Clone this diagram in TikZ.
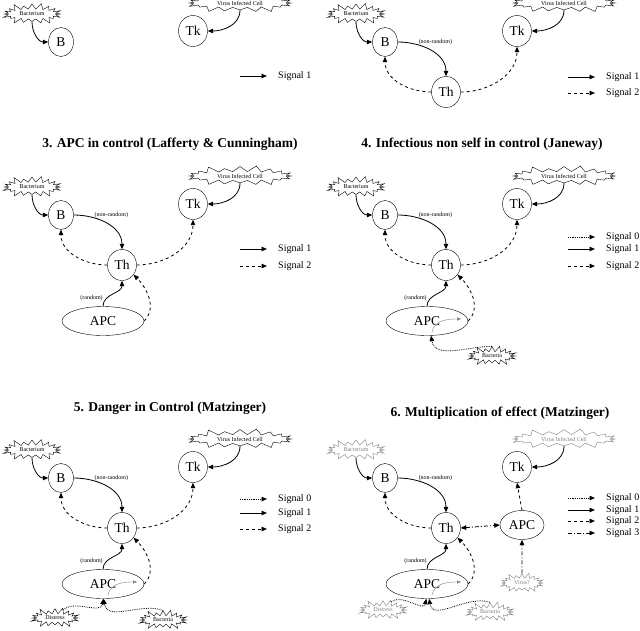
\documentclass[tikz,border=0pt]{standalone}
\usepackage{fontspec}
\setmainfont{Liberation Serif}
\usetikzlibrary{shapes.geometric,shapes.symbols,arrows.meta,calc}
\tikzset{
 cell/.style={draw,ellipse,inner sep=0pt,font=\fontsize{13.5}{14}\selectfont,minimum width=29pt,minimum height=31pt},
 burst/.style={draw,starburst,starburst points=20,starburst point height=7pt,inner sep=1pt,font=\fontsize{6}{7}\selectfont,minimum height=24pt},
 tip/.style={-{Triangle[length=5.5pt,width=4.5pt]}},
 s0/.style={tip,densely dotted,thick},
 s1/.style={tip,thick},
 s2/.style={tip,dashed,thick},
 s3/.style={tip,thick,dash pattern=on 4pt off 2pt on 1pt off 2pt},
 lab/.style={font=\fontsize{6}{7}\selectfont,inner sep=1pt},
 leg/.style={font=\fontsize{10}{11}\selectfont,anchor=west,inner sep=0pt},
 ttl/.style={font=\bfseries\fontsize{13.5}{14}\selectfont},
 pale/.style={draw=gray,text=gray}
}
\newcommand\basepanel[2]{%
 \node[burst,minimum width=62pt,#2] (#1bac) at (32,-187) {Bacterium};
 \node[cell,minimum width=25pt,minimum height=29pt] (#1B) at (61,-215) {B};
 \node[burst,minimum width=108pt,minimum height=22pt,#2] (#1vic) at (240,-176) {Virus Infected Cell};
 \node[cell] (#1Tk) at (193,-204) {Tk};
 \draw[s1] (#1bac.south) to[out=-90,in=180] (#1B.west);
 \draw[s1] (#1vic.south) to[out=-90,in=0] (#1Tk.east);}
\newcommand\thpart[1]{%
 \node[cell] (#1Th) at (122,-265) {Th};
 \draw[s1] (#1B.east) to[out=0,in=90] node[lab,pos=0.3,above right=-1pt] {(non-random)} (#1Th.north);
 \draw[s2] (#1Th.west) to[out=180,in=-90] (#1B.south);}
\newcommand\thtk[1]{\draw[s2] (#1Th.east) to[out=0,in=-90] (#1Tk.south);}
\newcommand\apcpart[1]{%
 \node[cell,minimum width=82pt,minimum height=29pt] (#1APC) at (103,-321) {APC};
 \draw[s1] (#1APC.north) to[out=90,in=-90] node[lab,pos=0.3,left=3pt] {(random)} (#1Th.south);
 \draw[s2] (#1APC.east) to[out=45,in=-45] (#1Th.-40);}
\newcommand\apcin[1]{%
 \coordinate (#1ia) at ($(#1APC.center)+(5,-11)$);
 \coordinate (#1ib) at ($(#1APC.center)+(34,2)$);
 \draw[-{Triangle[length=4pt,width=3pt]},gray,thin] (#1ia) to[out=80,in=180] (#1ib);}
\newcommand\legrow[4]{%
 \coordinate (#1lg#4a) at (0,#2); \coordinate (#1lg#4b) at (27,#2);
 \draw[#3] (#1lg#4a) -- (#1lg#4b);
 \node[leg] (#1lg#4t) at (38,#2) {Signal #4};}
\begin{document}
\begin{tikzpicture}[x=1pt,y=1pt]
\useasboundingbox (0,0) rectangle (640,-630);
% Panel 1
\begin{scope}[shift={(0,173)}]
 \basepanel{a}{}
 \begin{scope}[shift={(240,0)}]\legrow{a}{-249}{s1}{1}\end{scope}
\end{scope}
% Panel 2
\begin{scope}[shift={(324,173)}]
 \basepanel{b}{}
 \thpart{b}\thtk{b}
 \begin{scope}[shift={(244,0)}]\legrow{b}{-250}{s1}{1}\legrow{b}{-266}{s2}{2}\end{scope}
\end{scope}
% Panel 3
\begin{scope}
 \node[ttl] (t3) at (170,-144) {3. APC in control (Lafferty \& Cunningham)};
 \basepanel{c}{}
 \thpart{c}\thtk{c}\apcpart{c}
 \begin{scope}[shift={(240,0)}]\legrow{c}{-249}{s1}{1}\legrow{c}{-266}{s2}{2}\end{scope}
\end{scope}
% Panel 4
\begin{scope}[shift={(324,0)}]
 \node[ttl] (t4) at (158,-144) {4. Infectious non self in control (Janeway)};
 \basepanel{d}{}
 \thpart{d}\thtk{d}\apcpart{d}\apcin{d}
 \node[burst,minimum width=52pt,minimum height=22pt] (dbact) at (168,-356) {Bacteria};
 \draw[s0] (dbact.north) to[out=180,in=-80] (dAPC.-75);
 \begin{scope}[shift={(244,0)}]\legrow{d}{-237}{s0}{0}\legrow{d}{-249}{s1}{1}\legrow{d}{-266}{s2}{2}\end{scope}
\end{scope}
% Panel 5
\begin{scope}[shift={(0,-263)}]
 \node[ttl] (t5) at (170,-145) {5. Danger in Control (Matzinger)};
 \basepanel{e}{}
 \thpart{e}\thtk{e}\apcpart{e}\apcin{e}
 \node[burst,minimum width=52pt,minimum height=22pt] (edis) at (55,-355) {Distress};
 \node[burst,minimum width=52pt,minimum height=22pt] (ebact) at (163,-357) {Bacteria};
 \draw[s0] (edis.north east) to[out=40,in=-100] (eAPC.-88);
 \draw[s0] (ebact.north) to[out=160,in=-80] (eAPC.-88);
 \begin{scope}[shift={(240,0)}]\legrow{e}{-236}{s0}{0}\legrow{e}{-250}{s1}{1}\legrow{e}{-266}{s2}{2}\end{scope}
\end{scope}
% Panel 6
\begin{scope}[shift={(324,-263)}]
 \node[ttl] (t6) at (176,-150) {6. Multiplication of effect (Matzinger)};
 \basepanel{f}{pale}
 \thpart{f}\apcpart{f}\apcin{f}
 \node[cell,minimum width=44pt,minimum height=29pt] (fAPC2) at (198,-262) {APC};
 \node[burst,minimum width=46pt,minimum height=22pt,starburst point height=6pt,pale] (fvir) at (198,-320) {Virus?};
 \draw[s3,{Triangle[length=5.5pt,width=4.5pt]}-{Triangle[length=5.5pt,width=4.5pt]}] (fTh.east) -- (fAPC2.west);
 \draw[s2] (fAPC2.north) -- (fTk.south);
 \draw[s3] (fvir.north) -- (fAPC2.south);
 \node[burst,minimum width=52pt,minimum height=22pt,pale] (fdis) at (59,-347) {Distress};
 \node[burst,minimum width=52pt,minimum height=22pt,pale] (fbact) at (166,-349) {Bacteria};
 \draw[s0] (fdis.north east) to[out=40,in=-100] (fAPC.-93);
 \draw[s0] (fbact.north) to[out=160,in=-80] (fAPC.-82);
 \begin{scope}[shift={(244,0)}]\legrow{f}{-235}{s0}{0}\legrow{f}{-247}{s1}{1}\legrow{f}{-258}{s2}{2}\legrow{f}{-270}{s3}{3}\end{scope}
\end{scope}
\end{tikzpicture}
\end{document}
